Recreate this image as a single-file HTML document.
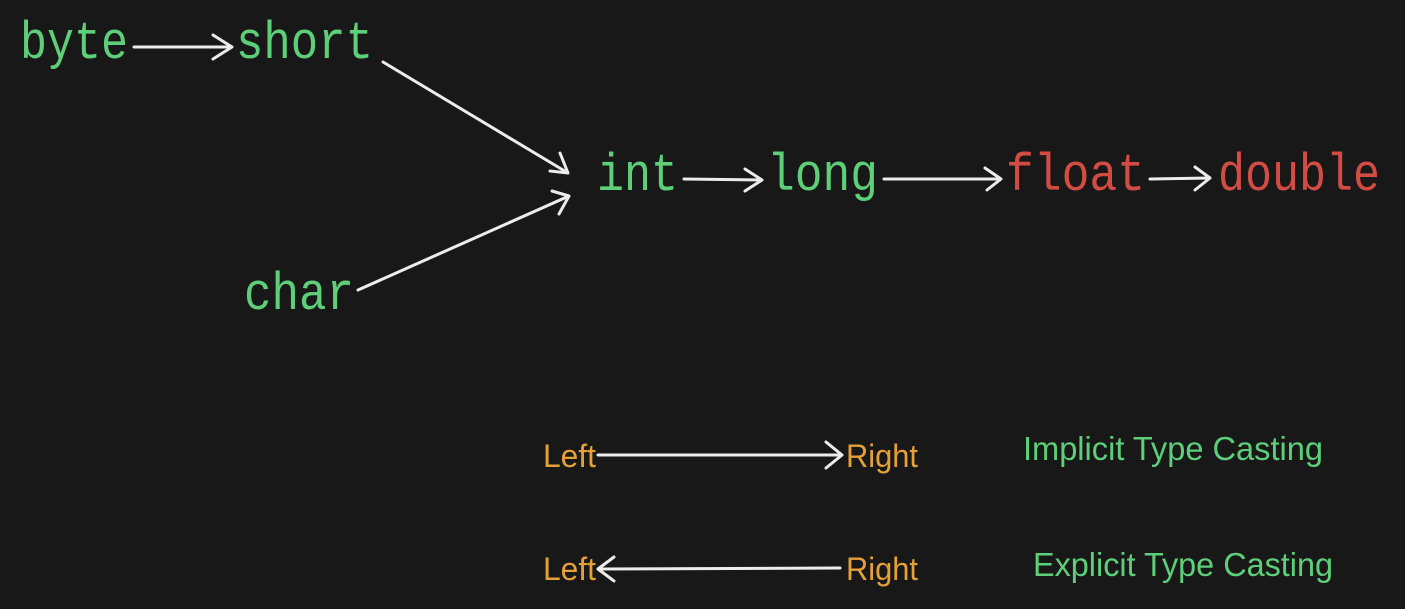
<!DOCTYPE html>
<html><head><style>
html,body{margin:0;padding:0;background:#181818;}
svg{display:block;}
.m{font-family:"Liberation Mono",monospace;font-size:53px;}
.s{font-family:"Liberation Sans",sans-serif;}
</style></head><body>
<svg width="1405" height="609" viewBox="0 0 1405 609" xmlns="http://www.w3.org/2000/svg">
<rect width="1405" height="609" fill="#181818"/>
<g class="m" fill="#5ccf78">
<text x="20" y="58" textLength="108" lengthAdjust="spacingAndGlyphs">byte</text>
<text x="236" y="58" textLength="137" lengthAdjust="spacingAndGlyphs">short</text>
<text x="244" y="309" textLength="110" lengthAdjust="spacingAndGlyphs">char</text>
<text x="597" y="190" textLength="81" lengthAdjust="spacingAndGlyphs">int</text>
<text x="767" y="190" textLength="111" lengthAdjust="spacingAndGlyphs">long</text>
</g>
<g class="m" fill="#d24c44">
<text x="1006" y="190" textLength="139" lengthAdjust="spacingAndGlyphs">float</text>
<text x="1218" y="190" textLength="162" lengthAdjust="spacingAndGlyphs">double</text>
</g>
<g fill="none" stroke="#ececec" stroke-width="3" stroke-linecap="round" stroke-linejoin="round">
<path d="M134 47 L232 47 M213 35 L232 47 L213 59"/>
<path d="M383 62 L568 173 M550 171 L568 173 L560 153"/>
<path d="M358 290 L569 196 M552 191 L569 196 L559 214"/>
<path d="M684 179 L762 180 M745 169 L762 180 L745 191"/>
<path d="M884 179 L1001 179 M985 168 L1001 179 L987 190"/>
<path d="M1150 179 L1210 178 M1195 167 L1210 178 L1195 190"/>
<path d="M598 455 L842 455 M826 442 L842 455 L826 468"/>
<path d="M840 568 L598 569 M614 557 L598 569 L614 581"/>
</g>
<g class="s" font-size="32" fill="#e5a038">
<text x="543" y="467" textLength="53" lengthAdjust="spacingAndGlyphs">Left</text>
<text x="846" y="467" textLength="72" lengthAdjust="spacingAndGlyphs">Right</text>
<text x="543" y="580" textLength="53" lengthAdjust="spacingAndGlyphs">Left</text>
<text x="846" y="580" textLength="72" lengthAdjust="spacingAndGlyphs">Right</text>
</g>
<g class="s" font-size="33" fill="#5ccf78">
<text x="1023" y="460" textLength="300" lengthAdjust="spacingAndGlyphs">Implicit Type Casting</text>
<text x="1033" y="576" textLength="300" lengthAdjust="spacingAndGlyphs">Explicit Type Casting</text>
</g>
</svg>
</body></html>
